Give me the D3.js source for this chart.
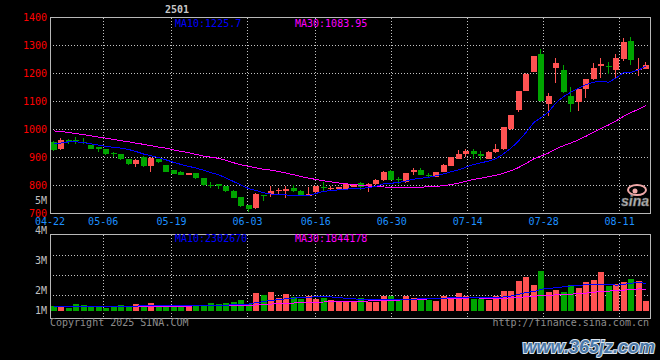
<!DOCTYPE html>
<html lang="zh">
<head>
<meta charset="UTF-8">
<title>日K线</title>
<script src="https://d3js.org/d3.v7.min.js"></script>
<style>
  body { margin: 0; background: #000; overflow: hidden; }
  svg { display: block; }
  text { font-family: "DejaVu Sans Mono", monospace; font-size: 10px; }
</style>
</head>
<body>
<svg id="chart" width="660" height="360"></svg>
<script>
// trading days 2025-04-22 .. 2025-08-15
var dates = ["04-22","04-23","04-24","04-25","04-28","04-29","04-30",
  "05-06","05-07","05-08","05-09","05-12","05-13","05-14","05-15","05-16","05-19","05-20","05-21","05-22","05-23","05-26","05-27","05-28","05-29","05-30",
  "06-03","06-04","06-05","06-06","06-09","06-10","06-11","06-12","06-13","06-16","06-17","06-18","06-19","06-20","06-23","06-24","06-25","06-26","06-27","06-30",
  "07-01","07-02","07-03","07-04","07-07","07-08","07-09","07-10","07-11","07-14","07-15","07-16","07-17","07-18","07-21","07-22","07-23","07-24","07-25","07-28","07-29","07-30","07-31",
  "08-01","08-04","08-05","08-06","08-07","08-08","08-11","08-12","08-13","08-14","08-15"];

var opens = [956,929,964,962,957,945,936,931,915,911, 893,877,903,869,893,874,855,850,838,845,
  827,803,804,798,782,758,729,719,765,768, 781,780,792,780,764,776,795,788,788,789,
  795,808,798,804,818,851,822,811,848,854, 838,832,848,869,896,911,922,914,895,920,
  931,1002,1069,1139,1205,1268,1092,1218,1214,1121, 1098,1143,1179,1226,1228,1214,1253,1315,1212,1217];
var highs = [960,968,966,975,971,946,937,932,921,912, 894,893,905,901,894,875,856,851,845,846,
  828,811,806,800,783,759,730,772,767,798, 792,798,802,783,794,799,812,797,795,810,
  807,814,808,822,851,857,832,846,863,863, 845,849,876,902,926,930,929,922,922,949,
  1010,1053,1138,1201,1263,1288,1131,1256,1232,1152, 1146,1182,1236,1256,1240,1268,1325,1330,1256,1240];
var lows = [922,926,948,950,949,929,919,910,901,891, 874,865,866,850,881,848,840,836,836,825,
  799,790,786,778,754,724,705,717,745,758, 771,756,776,765,763,775,780,783,786,788,
  794,785,776,803,817,820,807,810,839,838, 827,831,847,868,895,901,895,890,894,917,
  928,998,1062,1138,1204,1100,1048,1167,1132,1062, 1065,1111,1178,1185,1200,1182,1246,1230,1190,1216];
var closes = [926,964,957,958,951,931,931,912,911,893, 876,891,868,899,883,850,842,838,844,828,
  801,800,799,780,756,726,717,771,762,780, 783,789,781,767,771,798,792,791,794,804,
  806,794,807,821,850,821,821,845,857,839, 837,848,875,901,914,922,912,906,921,929,
  1008,1051,1137,1200,1262,1101,1121,1238,1133,1092, 1143,1181,1220,1234,1226,1257,1314,1248,1215,1230];

var ma10 = [948,952,956,956,953,949,944,940,936,933.4, 928.4,921.1,912.2,906.3,899.5,891.4,882.5,875.1,868.4,861.9,
  854.4,845.3,838.4,826.5,813.8,801.4,788.9,782.2,774.0,769.2, 767.4,766.3,764.5,763.2,764.7,771.9,779.4,781.4,784.6,787.0,
  789.3,789.8,792.4,797.8,805.7,808.0,810.9,816.3,822.6,826.1, 829.2,834.6,841.4,849.4,855.8,865.9,875.0,881.1,887.5,896.5,
  913.6,933.9,960.1,990.0,1024.8,1042.7,1063.6,1096.8,1118.0,1134.3, 1147.8,1160.8,1169.1,1172.5,1168.9,1184.5,1203.8,1204.8,1213.0,1226.8];
var ma30 = [995,993,989,985,982,977,973,969,964,960, 956,951,947,942,937,933,927,922,917,911,
  905,901,897,890,881,874,868,863,858,854.8, 850.1,844.2,838.4,832.0,826.0,821.6,816.9,812.9,809.0,806.0,
  803.7,800.5,798.4,795.8,794.7,793.8,793.1,793.3,793.7,794.1, 795.3,796.9,799.4,803.5,808.7,815.3,821.8,826.3,831.6,836.5,
  844.0,852.8,864.6,879.1,895.4,905.5,916.5,931.4,942.7,952.3, 963.5,976.4,990.2,1004.0,1016.5,1031.0,1047.5,1060.9,1072.8,1085.9];

// volume in millions of shares
var volumes = [0.41,0.47,0.30,0.59,0.50,0.41,0.41,0.30,0.41,0.50, 0.41,0.59,0.47,0.68,0.36,0.56,0.36,0.36,0.50,0.50,
  0.56,0.68,0.59,0.68,0.80,0.95,0.59,1.60,1.39,1.66, 1.13,1.48,1.21,1.04,1.33,1.10,1.16,1.01,0.89,0.80,
  0.77,1.13,0.80,0.80,1.33,1.30,1.07,1.30,1.19,1.19, 1.01,0.89,1.30,1.24,1.57,1.30,1.07,1.07,0.95,1.36,
  1.75,1.75,2.64,2.99,2.28,3.56,1.69,1.84,1.66,2.28, 2.01,2.55,2.73,3.44,2.25,2.43,2.55,2.81,2.64,0.86];
var volMa10 = [0.40,0.41,0.41,0.42,0.42,0.42,0.43,0.43,0.43,0.43, 0.43,0.44,0.46,0.47,0.45,0.47,0.46,0.47,0.48,0.48,
  0.49,0.50,0.52,0.52,0.56,0.60,0.62,0.75,0.83,0.95, 1.01,1.09,1.15,1.19,1.24,1.25,1.31,1.25,1.20,1.12,
  1.08,1.04,1.00,0.98,0.98,1.00,0.99,1.02,1.05,1.09, 1.11,1.09,1.14,1.18,1.21,1.21,1.21,1.18,1.16,1.18,
  1.25,1.34,1.47,1.65,1.72,1.94,2.00,2.08,2.15,2.24, 2.27,2.35,2.36,2.40,2.40,2.29,2.37,2.47,2.57,2.43];
var volMa30 = [0.40,0.40,0.40,0.41,0.41,0.41,0.41,0.42,0.42,0.42, 0.42,0.43,0.43,0.43,0.43,0.44,0.44,0.44,0.44,0.45,
  0.45,0.46,0.46,0.47,0.48,0.49,0.50,0.54,0.58,0.62, 0.64,0.68,0.71,0.72,0.75,0.77,0.80,0.82,0.84,0.85,
  0.86,0.88,0.89,0.89,0.93,0.95,0.97,1.01,1.03,1.05, 1.07,1.07,1.10,1.12,1.14,1.15,1.17,1.15,1.14,1.13,
  1.15,1.16,1.20,1.27,1.30,1.38,1.40,1.43,1.45,1.50, 1.54,1.59,1.66,1.74,1.77,1.81,1.86,1.91,1.96,1.95];

var priceTicks = [700, 800, 900, 1000, 1100, 1200, 1300, 1400];
var dateTicks = ["04-22","05-06","05-19","06-03","06-16","06-30","07-14","07-28","08-11"];
var volTickLabels = ["5M", "4M", "3M", "2M", "1M"];

var RED = "#ff5252", GREEN = "#00a400", GRID = "#c4c4c4", FRAME = "#b8b8b8";

var svg = d3.select("#chart");
svg.append("rect").attr("width", 660).attr("height", 360).attr("fill", "#000");

var left = 50, right = 650;
var priceTop = 17.5, priceBottom = 213.5;
var volTop = 234.5, volBase = 311, volBottom = 318.5;

var x = d3.scaleBand().domain(d3.range(dates.length)).range([left, right])
    .paddingInner(0.2).paddingOuter(0.1);
// the date grid is spread over the index range, not the candle slots
var gridX = d3.scaleLinear().domain([0, dates.length - 1]).range([left, right]);
var y = d3.scaleLinear().domain([700, 1400]).range([priceBottom, priceTop]);
var vy = d3.scaleLinear().domain([0, 6.8]).range([volBase, volTop]);

function crisp(v) { return Math.round(v - 0.5) + 0.5; }
function isUp(i) { return closes[i] >= opens[i]; }

var grid = svg.append("g").attr("stroke", GRID).attr("stroke-dasharray", "1,2")
    .attr("shape-rendering", "crispEdges");

// price grid
grid.selectAll(".hp").data(priceTicks.slice(1, -1)).enter().append("line")
    .attr("x1", left).attr("x2", right)
    .attr("y1", function (d) { return crisp(y(d)); })
    .attr("y2", function (d) { return crisp(y(d)); });

var gridIdx = dateTicks.slice(1).map(function (d) { return dates.indexOf(d); });
grid.selectAll(".vp").data(gridIdx).enter().append("line")
    .attr("x1", function (d) { return crisp(gridX(d)); })
    .attr("x2", function (d) { return crisp(gridX(d)); })
    .attr("y1", priceTop).attr("y2", priceBottom);

// volume grid
grid.selectAll(".hv").data(d3.range(3)).enter().append("line")
    .attr("x1", left).attr("x2", right)
    .attr("y1", function (k) { return 295.5 - 20 * k; })
    .attr("y2", function (k) { return 295.5 - 20 * k; });
grid.selectAll(".vv").data(gridIdx).enter().append("line")
    .attr("x1", function (d) { return crisp(gridX(d)); })
    .attr("x2", function (d) { return crisp(gridX(d)); })
    .attr("y1", volTop).attr("y2", volBottom);

// frames
var frames = svg.append("g").attr("fill", "none").attr("stroke", FRAME)
    .attr("shape-rendering", "crispEdges");
frames.append("rect").attr("x", left + 0.5).attr("y", priceTop)
    .attr("width", right - left).attr("height", priceBottom - priceTop);
frames.append("rect").attr("x", left + 0.5).attr("y", volTop)
    .attr("width", right - left).attr("height", volBottom - volTop);

// candles
var candles = svg.append("g").attr("shape-rendering", "crispEdges");
var idx = d3.range(dates.length);
candles.selectAll(".wick").data(idx).enter().append("line")
    .attr("x1", function (i) { return Math.round(x(i)) + 2.5; })
    .attr("x2", function (i) { return Math.round(x(i)) + 2.5; })
    .attr("y1", function (i) { return Math.round(y(highs[i])); })
    .attr("y2", function (i) { return Math.round(y(lows[i])); })
    .attr("stroke", function (i) { return isUp(i) ? RED : GREEN; });
candles.selectAll(".body").data(idx).enter().append("rect")
    .attr("x", function (i) { return Math.round(x(i)); })
    .attr("width", Math.round(x.bandwidth()))
    .attr("y", function (i) { return Math.round(y(Math.max(opens[i], closes[i]))); })
    .attr("height", function (i) {
        var t = Math.round(y(Math.max(opens[i], closes[i])));
        var b = Math.round(y(Math.min(opens[i], closes[i])));
        return Math.max(1, b - t);
    })
    .attr("fill", function (i) { return isUp(i) ? RED : GREEN; });

// volume bars
svg.append("g").attr("shape-rendering", "crispEdges")
    .selectAll("rect").data(idx).enter().append("rect")
    .attr("x", function (i) { return Math.round(x(i)); })
    .attr("width", Math.round(x.bandwidth()))
    .attr("y", function (i) { return Math.round(vy(volumes[i])); })
    .attr("height", function (i) { return volBase - Math.round(vy(volumes[i])); })
    .attr("fill", function (i) { return isUp(i) ? RED : GREEN; });

// moving averages
function cx(d, i) { return x(i) + x.bandwidth() / 2; }
var priceLine = d3.line().x(cx).y(function (d) { return y(d); });
var volLine = d3.line().x(cx).y(function (d) { return vy(d); });
var lines = svg.append("g").attr("fill", "none").attr("shape-rendering", "crispEdges");
lines.append("path").attr("d", priceLine(ma30)).attr("stroke", "#ff00ff");
lines.append("path").attr("d", priceLine(ma10)).attr("stroke", "#0000ff");
lines.append("path").attr("d", volLine(volMa30)).attr("stroke", "#ff00ff");
lines.append("path").attr("d", volLine(volMa10)).attr("stroke", "#0000ff");

// axis labels
svg.append("g").selectAll("text").data(priceTicks).enter().append("text")
    .attr("x", 47).attr("y", function (d) { return y(d) + 3; })
    .attr("text-anchor", "end").attr("fill", "#ff0000")
    .text(function (d) { return d; });

svg.append("g").selectAll("text").data(dateTicks).enter().append("text")
    .attr("x", function (d) { return gridX(dates.indexOf(d)); })
    .attr("y", 225).attr("text-anchor", "middle").attr("fill", "#1e90ff")
    .text(function (d) { return d; });

svg.append("g").selectAll("text").data(volTickLabels).enter().append("text")
    .attr("x", 47).attr("y", function (d, k) { return k < 4 ? 204 + 30 * k : 314; })
    .attr("text-anchor", "end").attr("fill", "#c0c0c0")
    .text(function (d) { return d; });

// legends
svg.append("text").attr("x", 165).attr("y", 13).attr("fill", "#c8c8c8")
    .attr("font-weight", "bold").text("2501");
svg.append("text").attr("x", 175).attr("y", 27).attr("fill", "#0000ff").text("MA10:1225.7");
svg.append("text").attr("x", 295).attr("y", 27).attr("fill", "#ff00ff").text("MA30:1083.95");
svg.append("text").attr("x", 175).attr("y", 242).attr("fill", "#0000ff").text("MA10:2302670");
svg.append("text").attr("x", 295).attr("y", 242).attr("fill", "#ff00ff").text("MA30:1844178");

svg.append("text").attr("x", 50).attr("y", 326).attr("fill", "#8c8c8c")
    .text("Copyright 2025 SINA.COM");
svg.append("text").attr("x", 649).attr("y", 326).attr("text-anchor", "end")
    .attr("fill", "#8c8c8c").text("http://finance.sina.com.cn");

// sina logo
var logo = svg.append("g");
logo.append("ellipse").attr("cx", 637).attr("cy", 190).attr("rx", 9).attr("ry", 5)
    .attr("fill", "none").attr("stroke", "#f0a8a8").attr("stroke-width", 2);
logo.append("circle").attr("cx", 635).attr("cy", 191).attr("r", 2.5).attr("fill", "#f0a8a8");
logo.append("text").attr("x", 621).attr("y", 206)
    .style("font-family", "'Liberation Sans', Arial, sans-serif")
    .style("font-size", "14px").style("font-style", "italic").style("font-weight", "bold")
    .attr("fill", "#bcbcbc").attr("stroke", "#6a6a6a").attr("stroke-width", 0.6)
    .text("sina");

// watermark
svg.append("text").attr("x", 655).attr("y", 353).attr("text-anchor", "end")
    .style("font-family", "'Liberation Sans', Arial, sans-serif")
    .style("font-size", "18px").style("font-weight", "bold").style("font-style", "italic")
    .attr("fill", "#4a78a8").attr("stroke", "#dce4ee").attr("stroke-width", 2)
    .attr("paint-order", "stroke").text("www.365jz.com");
</script>
</body>
</html>
